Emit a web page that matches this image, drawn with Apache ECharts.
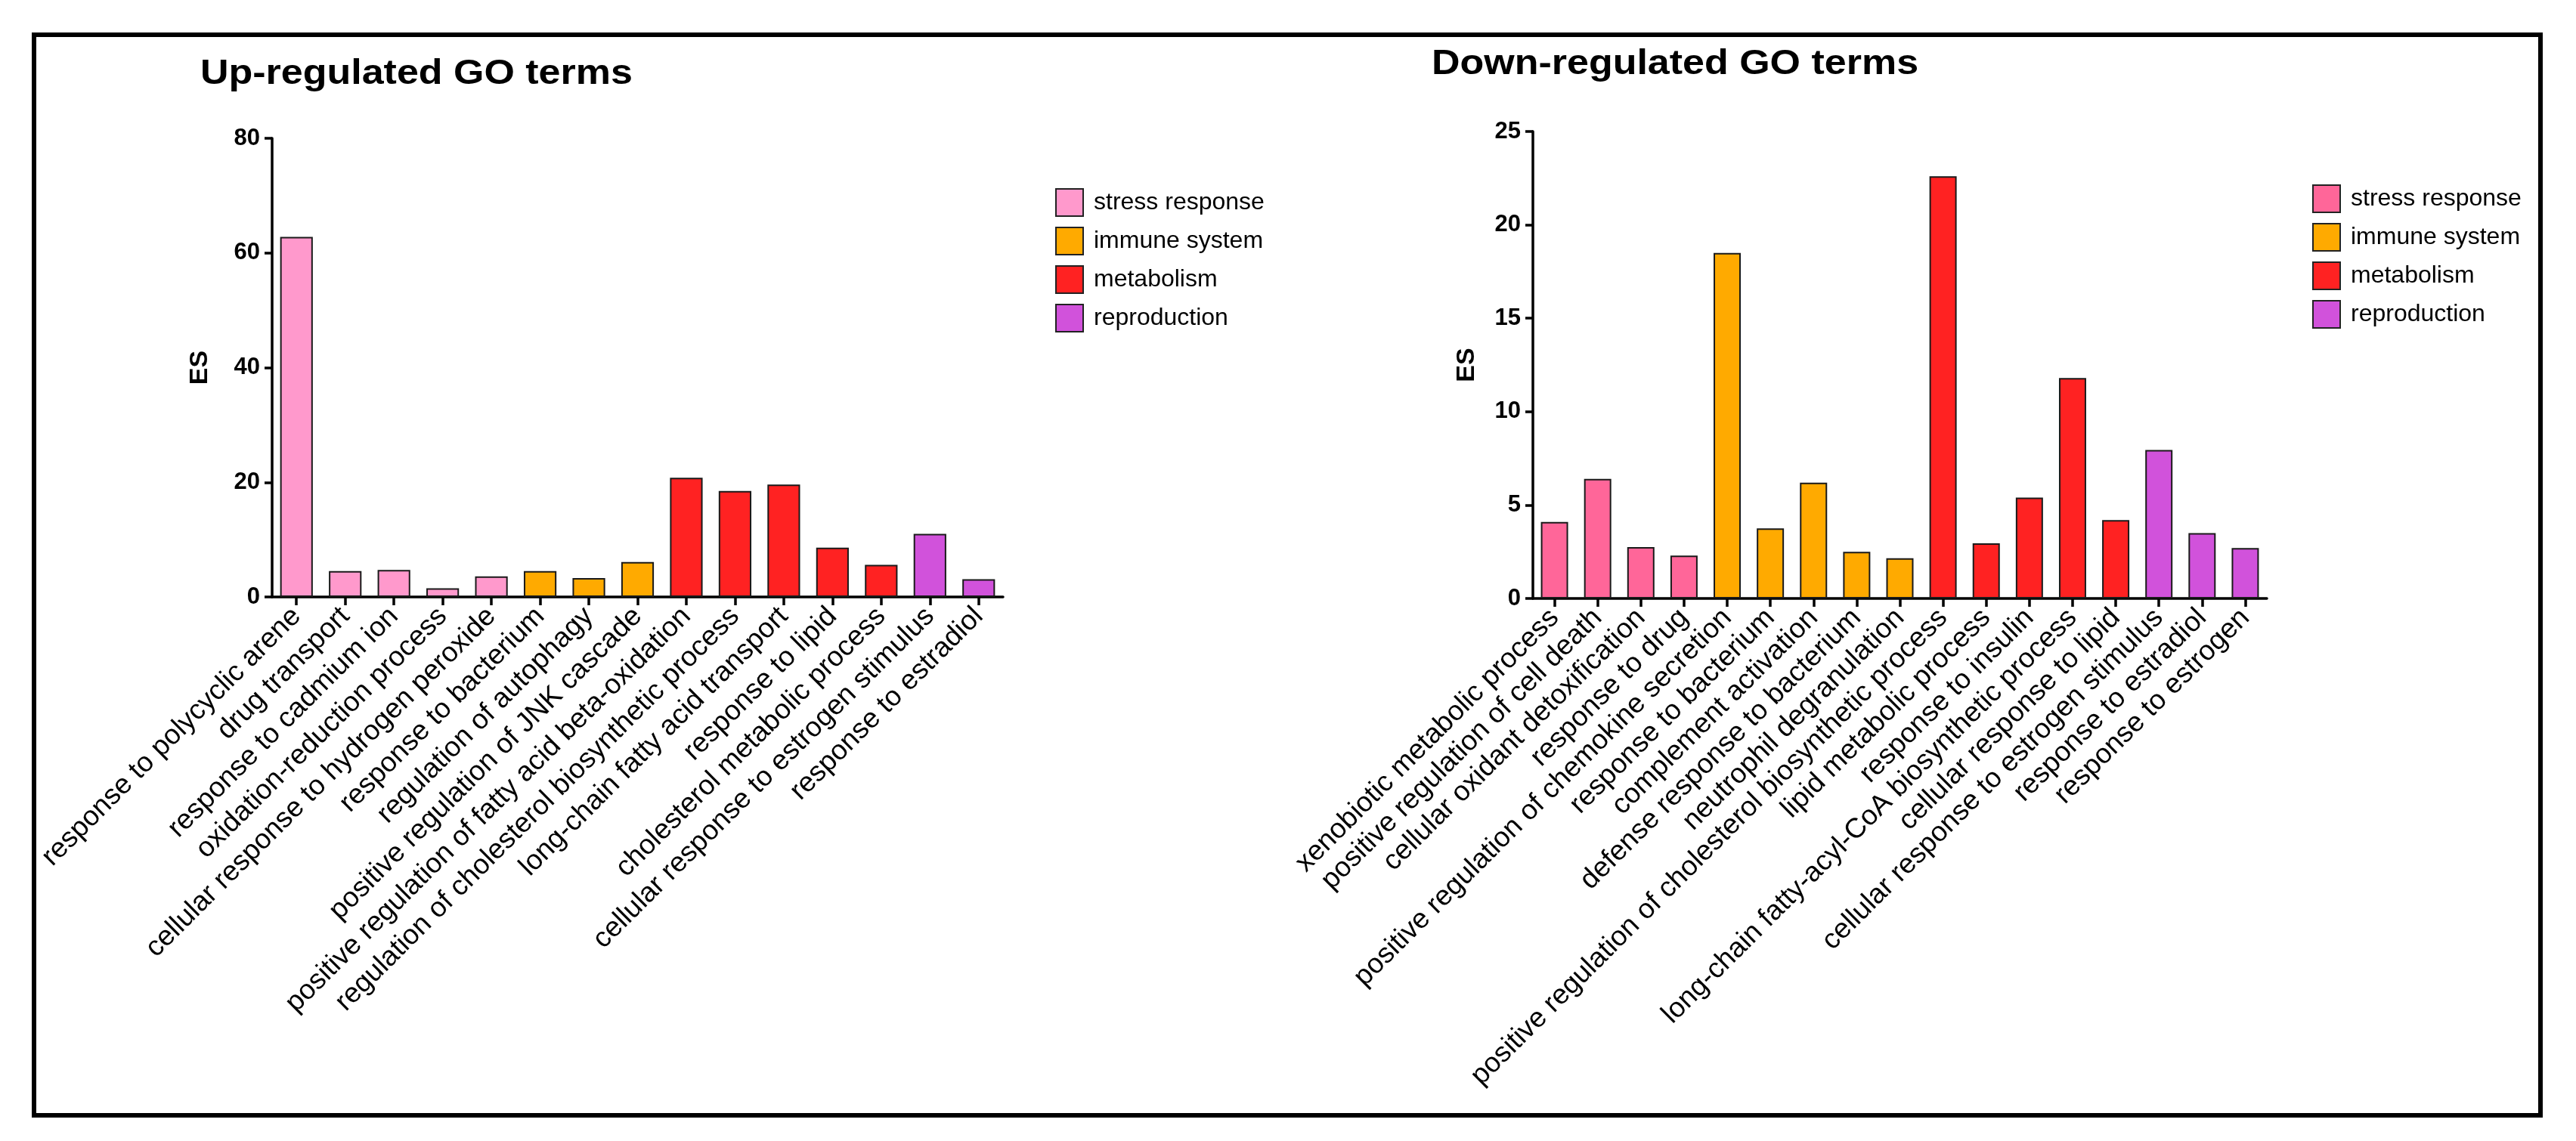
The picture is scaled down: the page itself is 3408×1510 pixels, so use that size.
<!DOCTYPE html>
<html>
<head>
<meta charset="utf-8">
<script src="https://cdn.jsdelivr.net/npm/echarts@6/dist/echarts.min.js"></script>
<style>
  html, body { margin: 0; padding: 0; background: #fff; }
  #chart { width: 3408px; height: 1510px; }
</style>
</head>
<body>
<div id="chart"></div>
<script>
const groupNames = ['stress response', 'immune system', 'metabolism', 'reproduction'];

const upCategories = [
  'response to polycyclic arene',
  'drug transport',
  'response to cadmium ion',
  'oxidation-reduction process',
  'cellular response to hydrogen peroxide',
  'response to bacterium',
  'regulation of autophagy',
  'positive regulation of JNK cascade',
  'positive regulation of fatty acid beta-oxidation',
  'regulation of cholesterol biosynthetic process',
  'long-chain fatty acid transport',
  'response to lipid',
  'cholesterol metabolic process',
  'cellular response to estrogen stimulus',
  'response to estradiol'
];
const upValues = [62.8, 4.5, 4.7, 1.5, 3.6, 4.5, 3.3, 6.1, 20.8, 18.5, 19.6, 8.6, 5.6, 11.0, 3.1];
const upGroups = [
  'stress response', 'stress response', 'stress response', 'stress response', 'stress response',
  'immune system', 'immune system', 'immune system',
  'metabolism', 'metabolism', 'metabolism', 'metabolism', 'metabolism',
  'reproduction', 'reproduction'
];

const downCategories = [
  'xenobiotic metabolic process',
  'positive regulation of cell death',
  'cellular oxidant detoxification',
  'response to drug',
  'positive regulation of chemokine secretion',
  'response to bacterium',
  'complement activation',
  'defense response to bacterium',
  'neutrophil degranulation',
  'positive regulation of cholesterol biosynthetic process',
  'lipid metabolic process',
  'response to insulin',
  'long-chain fatty-acyl-CoA biosynthetic process',
  'cellular response to lipid',
  'cellular response to estrogen stimulus',
  'response to estradiol',
  'response to estrogen'
];
const downValues = [4.1, 6.4, 2.75, 2.3, 18.5, 3.75, 6.2, 2.5, 2.15, 22.6, 2.95, 5.4, 11.8, 4.2, 7.95, 3.5, 2.7];
const downGroups = [
  'stress response', 'stress response', 'stress response', 'stress response',
  'immune system', 'immune system', 'immune system', 'immune system', 'immune system',
  'metabolism', 'metabolism', 'metabolism', 'metabolism', 'metabolism',
  'reproduction', 'reproduction', 'reproduction'
];

const upYTicks = { min: 0, max: 80, interval: 20 };
const downYTicks = { min: 0, max: 25, interval: 5 };

const upColors = ['#FF99CC', '#FFAA00', '#FF2222', '#D152DB'];
const downColors = ['#FF6699', '#FFAA00', '#FF2222', '#D152DB'];

const FONT = '"Liberation Sans", Arial, Helvetica, sans-serif';
const AXIS_W = 3.5;

function buildSeries(values, groups, colors, idx, gap) {
  return groupNames.map((g, gi) => ({
    name: g,
    type: 'bar',
    xAxisIndex: idx,
    yAxisIndex: idx,
    stack: 'stack' + idx,
    barCategoryGap: gap,
    itemStyle: { color: colors[gi], borderColor: '#1a1a1a', borderWidth: 2 },
    emphasis: { disabled: true },
    data: values.map((v, i) => (groups[i] === g ? v : '-'))
  }));
}

function xAxis(cats, gridIndex) {
  return {
    type: 'category',
    gridIndex,
    data: cats,
    axisLine: { show: true, lineStyle: { color: '#000', width: AXIS_W } },
    axisTick: { show: true, alignWithLabel: true, length: 11, lineStyle: { color: '#000', width: AXIS_W } },
    axisLabel: { interval: 0, rotate: 45, margin: 20, fontSize: 37, color: '#000', fontFamily: FONT },
    splitLine: { show: false }
  };
}

function yAxis(t, gridIndex, gap) {
  return {
    type: 'value',
    gridIndex,
    min: t.min, max: t.max, interval: t.interval,
    name: 'ES',
    nameLocation: 'middle',
    nameGap: gap,
    nameTextStyle: { fontSize: 34, fontWeight: 'bold', color: '#000', fontFamily: FONT },
    axisLine: { show: true, lineStyle: { color: '#000', width: AXIS_W } },
    axisTick: { show: true, length: 10, lineStyle: { color: '#000', width: AXIS_W } },
    axisLabel: { margin: 16, fontSize: 31, fontWeight: 'bold', color: '#000', fontFamily: FONT },
    splitLine: { show: false }
  };
}

function legend(left, top, colors) {
  return {
    orient: 'vertical',
    left, top,
    itemWidth: 36, itemHeight: 36, itemGap: 13,
    icon: 'rect',
    selectedMode: false,
    itemStyle: { borderColor: '#222', borderWidth: 2 },
    textStyle: { fontSize: 32, color: '#000', fontFamily: FONT, padding: [0, 0, 0, 9] },
    data: groupNames.map((g, i) => ({ name: g, itemStyle: { color: colors[i], borderColor: '#222', borderWidth: 2 } }))
  };
}

const chart = echarts.init(document.getElementById('chart'), null, { renderer: 'canvas' });

chart.setOption({
  backgroundColor: '#fff',
  animation: false,
  grid: [
    { left: 360, top: 183, width: 967, height: 607, containLabel: false },
    { left: 2028, top: 174, width: 971, height: 618, containLabel: false }
  ],
  xAxis: [xAxis(upCategories, 0), xAxis(downCategories, 1)],
  yAxis: [yAxis(upYTicks, 0, 78), yAxis(downYTicks, 1, 70)],
  legend: [legend(1391, 244, upColors), legend(3054, 239, downColors)],
  series: [
    ...buildSeries(upValues, upGroups, upColors, 0, '33%'),
    ...buildSeries(downValues, downGroups, downColors, 1, '37%')
  ],
  graphic: [
    {
      type: 'rect',
      shape: { x: 45, y: 46, width: 3316, height: 1430 },
      style: { fill: 'none', stroke: '#000', lineWidth: 6 },
      silent: true
    },
    {
      type: 'text',
      x: 265, y: 98, scaleX: 1.13,
      style: { text: 'Up-regulated GO terms', fontSize: 46, fontWeight: 'bold', fill: '#000', fontFamily: FONT, align: 'left', verticalAlign: 'middle' },
      silent: true
    },
    {
      type: 'text',
      x: 1894, y: 85, scaleX: 1.13,
      style: { text: 'Down-regulated GO terms', fontSize: 46, fontWeight: 'bold', fill: '#000', fontFamily: FONT, align: 'left', verticalAlign: 'middle' },
      silent: true
    }
  ]
});
</script>
</body>
</html>
